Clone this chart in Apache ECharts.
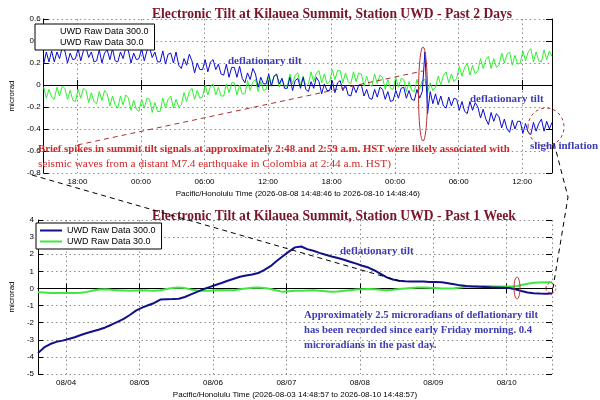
<!DOCTYPE html>
<html>
<head>
<meta charset="utf-8">
<script src="https://cdn.jsdelivr.net/npm/echarts@6/dist/echarts.min.js"></script>
<style>html,body{margin:0;padding:0;background:#fff}#c{width:600px;height:400px}</style>
</head>
<body>
<div id="c"></div>
<script>
const twoDayTitle = 'Electronic Tilt at Kilauea Summit, Station UWD - Past 2 Days';
const weekTitle = 'Electronic Tilt at Kilauea Summit, Station UWD - Past 1 Week';
const seriesNames = ['UWD Raw Data 300.0', 'UWD Raw Data 30.0'];
const twoDayAxisName = 'Pacific/Honolulu Time (2026-08-08 14:48:46 to 2026-08-10 14:48:46)';
const weekAxisName = 'Pacific/Honolulu Time (2026-08-03 14:48:57 to 2026-08-10 14:48:57)';

// ---- Past 2 days (15-minute samples from 2026-08-08 14:48:46) ----
const blue2d = [0.19,0.30,0.21,0.31, 0.21,0.30,0.24,0.34, 0.31,0.20,0.29,0.23, 0.24,0.33,0.22,0.31,
 0.34,0.25,0.30,0.21, 0.22,0.32,0.20,0.29, 0.32,0.23,0.33,0.22, 0.21,0.30,0.24,0.34,
 0.31,0.20,0.29,0.23, 0.24,0.33,0.22,0.31, 0.34,0.25,0.30,0.21, 0.21,0.31,0.19,0.28,
 0.29,0.20,0.30,0.18, 0.15,0.24,0.18,0.28, 0.22,0.11,0.20,0.14, 0.14,0.23,0.12,0.21,
 0.23,0.14,0.19,0.10, 0.09,0.19,0.07,0.16, 0.16,0.07,0.17,0.06, 0.02,0.11,0.05,0.15,
 0.10,-0.02,0.07,0.01, 0.01,0.10,-0.01,0.08, 0.10,0.01,0.06,-0.03, -0.03,0.07,-0.05,0.04,
 0.06,-0.03,0.07,-0.04, -0.06,0.03,-0.03,0.07, 0.03,-0.08,0.01,-0.05, -0.05,0.04,-0.07,0.02,
 0.04,-0.05,0.00,-0.09, -0.10,-0.01,-0.07,0.00, 0.00,-0.10,-0.04,-0.12, -0.13,-0.04,-0.11,-0.02,
 -0.04,-0.13,-0.06,-0.15, -0.14,-0.05,-0.12,-0.03, -0.02,-0.12,-0.05,-0.13, -0.14,-0.04,-0.12,-0.06,
 0.30,-0.26,-0.06,-0.17, -0.08,-0.18,-0.10,-0.19, -0.21,-0.11,-0.19,-0.12, -0.13,-0.23,-0.15,-0.24,
 -0.26,-0.15,-0.23,-0.16, -0.20,-0.30,-0.22,-0.31, -0.36,-0.25,-0.33,-0.26, -0.29,-0.39,-0.31,-0.40,
 -0.43,-0.32,-0.40,-0.33, -0.33,-0.44,-0.35,-0.43, -0.45,-0.34,-0.42,-0.35, -0.31,-0.42,-0.33,-0.40,
 -0.34];

const green2d = [-0.02,-0.12,-0.04,-0.11, -0.13,-0.02,-0.10,-0.01, -0.03,-0.13,-0.05,-0.14, -0.15,-0.04,-0.12,-0.03,
 -0.05,-0.16,-0.07,-0.15, -0.17,-0.06,-0.14,-0.05, -0.08,-0.19,-0.10,-0.18, -0.21,-0.10,-0.18,-0.09,
 -0.12,-0.23,-0.14,-0.22, -0.24,-0.13,-0.21,-0.12, -0.13,-0.25,-0.16,-0.24, -0.24,-0.12,-0.21,-0.13,
 -0.10,-0.21,-0.13,-0.20, -0.18,-0.07,-0.15,-0.06, -0.03,-0.13,-0.05,-0.12, -0.11,0.00,-0.09,-0.01,
 0.01,-0.09,-0.02,-0.10, -0.10,0.01,-0.07,0.02, 0.02,-0.09,0.00,-0.08, -0.08,0.04,-0.05,0.03,
 0.05,-0.06,0.03,-0.05, -0.04,0.07,-0.01,0.08, 0.09,-0.02,0.06,-0.01, -0.01,0.10,0.01,0.09,
 0.11,0.00,0.08,-0.01, 0.01,0.12,0.03,0.11, 0.13,0.02,0.10,0.01, 0.03,0.14,0.05,0.13,
 0.13,0.02,0.11,0.03, 0.01,0.12,0.03,0.11, 0.10,-0.01,0.08,0.00, -0.01,0.10,0.01,0.09,
 0.07,-0.04,0.05,-0.03, -0.04,0.07,-0.02,0.06, 0.05,-0.06,0.03,-0.05, -0.06,0.05,-0.04,0.04,
 0.05,-0.07,0.02,-0.05, -0.02,0.08,0.00,0.09, 0.12,0.02,0.10,0.03, 0.06,0.17,0.08,0.16,
 0.20,0.09,0.18,0.10, 0.13,0.24,0.15,0.23, 0.26,0.15,0.24,0.16, 0.18,0.29,0.20,0.28,
 0.30,0.18,0.27,0.19, 0.20,0.31,0.22,0.30, 0.33,0.21,0.30,0.22, 0.21,0.32,0.23,0.31,
 0.26];

// ---- Past week (2-hour samples from 2026-08-03 14:48:57) ----
const blueWeek = [-3.78,-3.45,-3.25,-3.12,-3.05,-2.95,-2.85,-2.72,-2.60,-2.50,
 -2.40,-2.28,-2.12,-1.95,-1.78,-1.55,-1.30,-1.12,-0.98,-0.85,
 -0.65,-0.63,-0.62,-0.60,-0.50,-0.35,-0.20,-0.05,0.08,0.20,
 0.32,0.45,0.57,0.68,0.76,0.82,0.90,1.08,1.30,1.60,
 1.88,2.15,2.40,2.45,2.30,2.20,2.08,1.97,1.87,1.78,
 1.68,1.56,1.45,1.33,1.22,1.05,0.85,0.65,0.52,0.45,
 0.42,0.41,0.40,0.40,0.38,0.38,0.36,0.30,0.24,0.18,
 0.14,0.12,0.10,0.09,0.07,0.06,0.04,0.02,-0.05,-0.15,
 -0.24,-0.28,-0.30,-0.31,-0.30];

const greenWeek = [-0.22,-0.24,-0.26,-0.27,-0.27,-0.26,-0.27,-0.25,-0.20,-0.12,
 -0.06,-0.05,-0.08,-0.10,-0.12,-0.14,-0.12,-0.10,-0.12,-0.13,
 -0.10,-0.03,0.03,0.05,0.02,-0.06,-0.12,-0.13,-0.14,-0.10,
 -0.09,-0.11,-0.10,-0.05,0.00,0.04,0.05,0.03,-0.03,-0.12,
 -0.20,-0.17,-0.14,-0.13,-0.12,-0.11,-0.13,-0.16,-0.19,-0.18,
 -0.14,-0.10,-0.06,-0.04,-0.03,-0.05,-0.08,-0.10,-0.07,-0.03,
 0.00,0.03,0.06,0.05,0.04,0.02,0.00,-0.01,0.01,0.05,
 0.10,0.13,0.14,0.14,0.13,0.12,0.12,0.11,0.12,0.20,
 0.28,0.33,0.35,0.36,0.36];

// ---- time bases ----
const HOUR = 3600 * 1000;
const topStart = new Date(2026, 7, 8, 14, 48, 46).getTime();
const topEnd = topStart + 48 * HOUR;
const topStep = 15 * 60 * 1000;
const weekStart = new Date(2026, 7, 3, 14, 48, 57).getTime();
const weekEnd = weekStart + 7 * 24 * HOUR;
const weekStep = 2 * HOUR;

const toPairs = (arr, start, step) => arr.map((v, i) => [start + i * step, v]);

const pad = n => (n < 10 ? '0' : '') + n;
const hm = v => { const d = new Date(v); return pad(d.getHours()) + ':' + pad(d.getMinutes()); };
const md = v => { const d = new Date(v); return pad(d.getMonth() + 1) + '/' + pad(d.getDate()); };
const numFmt = v => { const r = Math.round(v * 10) / 10; return r === 0 ? '0' : String(r); };

const TITLE_COLOR = '#7a1428';
const BLUE = '#0b0bd0';
const GREEN = '#2ef02e';
const NAVY = '#10108a';
const GREEN2 = '#3ee83e';
const ANN_BLUE = '#3c3cb4';
const ANN_RED = '#d02828';
const SERIF = '"Liberation Serif", "DejaVu Serif", serif';
const SANS = '"Liberation Sans", Arial, sans-serif';

const dotted = { show: true, lineStyle: { color: '#8a8a8a', type: [1.5, 3], width: 1 } };
const tickLbl = { fontSize: 8, color: '#000', fontFamily: SANS };

const chart = echarts.init(document.getElementById('c'), null, { renderer: 'canvas' });

const option = {
  animation: false,
  backgroundColor: '#fff',
  title: [
    { text: twoDayTitle, left: 147, top: 2, textStyle: { fontFamily: SERIF, fontSize: 13.6, fontWeight: 'bold', color: TITLE_COLOR } },
    { text: weekTitle, left: 147, top: 204, textStyle: { fontFamily: SERIF, fontSize: 13.6, fontWeight: 'bold', color: TITLE_COLOR } }
  ],
  legend: [
    {
      left: 35, top: 24, orient: 'vertical', itemGap: 2, padding: [3, 6, 3, 4],
      backgroundColor: '#fff', borderColor: '#000', borderWidth: 1, borderRadius: 0,
      itemWidth: 16, itemHeight: 2, selectedMode: false,
      textStyle: { fontSize: 9, fontFamily: SANS, color: '#000' },
      data: [{ name: seriesNames[0], icon: 'none' }, { name: seriesNames[1], icon: 'none' }]
    },
    {
      left: 36, top: 223, orient: 'vertical', itemGap: 2, padding: [3, 6, 3, 4],
      backgroundColor: '#fff', borderColor: '#000', borderWidth: 1, borderRadius: 0,
      itemWidth: 22, itemHeight: 2, selectedMode: false, icon: 'rect',
      textStyle: { fontSize: 9, fontFamily: SANS, color: '#000' },
      data: [
        { name: seriesNames[0], itemStyle: { color: NAVY } },
        { name: seriesNames[1], itemStyle: { color: GREEN2 } }
      ]
    }
  ],
  grid: [
    { left: 32, right: 48, top: 19, bottom: 227 },
    { left: 33, right: 48, top: 220, bottom: 26 }
  ],
  xAxis: [
    {
      type: 'time', gridIndex: 0, min: topStart, max: topEnd,
      minInterval: 7 * HOUR, maxInterval: 7 * HOUR,
      name: twoDayAxisName, nameLocation: 'middle', nameGap: 17,
      nameTextStyle: { fontSize: 8, fontFamily: SANS, color: '#000' },
      axisLine: { lineStyle: { color: '#000', width: 1 } },
      axisTick: { show: true, inside: true, length: 5, lineStyle: { color: '#000' } },
      axisLabel: Object.assign({ formatter: hm, margin: 5, showMinLabel: false, showMaxLabel: false, hideOverlap: false }, tickLbl),
      splitLine: dotted
    },
    {
      type: 'time', gridIndex: 0, position: 'top', min: topStart, max: topEnd,
      minInterval: 7 * HOUR, maxInterval: 7 * HOUR,
      axisLine: { show: false },
      axisTick: { show: true, inside: true, length: 5, lineStyle: { color: '#000' } },
      axisLabel: { show: false }, splitLine: { show: false }
    },
    {
      type: 'time', gridIndex: 1, min: weekStart, max: weekEnd,
      minInterval: 36 * HOUR, maxInterval: 36 * HOUR,
      name: weekAxisName, nameLocation: 'middle', nameGap: 17,
      nameTextStyle: { fontSize: 8, fontFamily: SANS, color: '#000' },
      axisLine: { lineStyle: { color: '#000', width: 1 } },
      axisTick: { show: true, inside: true, length: 5, lineStyle: { color: '#000' } },
      axisLabel: Object.assign({ formatter: md, margin: 5, showMinLabel: false, showMaxLabel: false, hideOverlap: false }, tickLbl),
      splitLine: dotted
    },
    {
      type: 'time', gridIndex: 1, position: 'top', min: weekStart, max: weekEnd,
      minInterval: 36 * HOUR, maxInterval: 36 * HOUR,
      axisLine: { show: true, lineStyle: { color: '#000', width: 1 } },
      axisTick: { show: true, inside: true, length: 5, lineStyle: { color: '#000' } },
      axisLabel: { show: false }, splitLine: { show: false }
    }
  ],
  yAxis: [
    {
      type: 'value', gridIndex: 0, min: -0.8, max: 0.6, interval: 0.2,
      name: 'microrad', nameLocation: 'middle', nameGap: 20, nameRotate: 90,
      nameTextStyle: { fontSize: 8, fontFamily: SANS, color: '#000' },
      axisLine: { show: true, lineStyle: { color: '#000' } },
      axisTick: { show: true, inside: true, length: 5, lineStyle: { color: '#000' } },
      axisLabel: Object.assign({ formatter: numFmt, margin: 3 }, tickLbl),
      splitLine: dotted
    },
    {
      type: 'value', gridIndex: 0, position: 'right', min: -0.8, max: 0.6, interval: 0.4,
      axisLine: { show: true, lineStyle: { color: '#000' } },
      axisTick: { show: true, inside: true, length: 6, lineStyle: { color: '#000' } },
      axisLabel: { show: false }, splitLine: { show: false }
    },
    {
      type: 'value', gridIndex: 1, min: -5, max: 4, interval: 1,
      name: 'microrad', nameLocation: 'middle', nameGap: 20, nameRotate: 90,
      nameTextStyle: { fontSize: 8, fontFamily: SANS, color: '#000' },
      axisLine: { show: true, lineStyle: { color: '#000' } },
      axisTick: { show: true, inside: true, length: 5, lineStyle: { color: '#000' } },
      axisLabel: Object.assign({ formatter: numFmt, margin: 4 }, tickLbl),
      splitLine: dotted
    },
    {
      type: 'value', gridIndex: 1, position: 'right', min: -5, max: 4, interval: 1,
      axisLine: { show: false },
      axisTick: { show: true, inside: true, length: 6, lineStyle: { color: '#000' } },
      axisLabel: { show: false }, splitLine: { show: false }
    }
  ],
  series: [
    {
      name: seriesNames[1], type: 'line', xAxisIndex: 0, yAxisIndex: 0,
      data: toPairs(green2d, topStart, topStep), showSymbol: false, symbol: 'none',
      lineStyle: { color: GREEN, width: 1 }, itemStyle: { color: GREEN }, z: 2
    },
    {
      name: seriesNames[0], type: 'line', xAxisIndex: 0, yAxisIndex: 0,
      data: toPairs(blue2d, topStart, topStep), showSymbol: false, symbol: 'none',
      lineStyle: { color: BLUE, width: 1 }, itemStyle: { color: BLUE }, z: 3,
      markLine: {
        silent: true, symbol: 'none', label: { show: false },
        lineStyle: { color: '#a83232', type: [5, 4], width: 1 },
        data: [[
          { coord: [topStart + 3.2 * HOUR, -0.545] },
          { coord: [topStart + 35.8 * HOUR, 0.127] }
        ]]
      }
    },
    {
      name: seriesNames[1], type: 'line', xAxisIndex: 2, yAxisIndex: 2,
      data: toPairs(greenWeek, weekStart, weekStep), showSymbol: false, symbol: 'none',
      lineStyle: { color: GREEN2, width: 2 }, itemStyle: { color: GREEN2 }, z: 2
    },
    {
      name: seriesNames[0], type: 'line', xAxisIndex: 2, yAxisIndex: 2,
      data: toPairs(blueWeek, weekStart, weekStep), showSymbol: false, symbol: 'none',
      lineStyle: { color: NAVY, width: 2 }, itemStyle: { color: NAVY }, z: 3
    }
  ],
  graphic: [
    { type: 'polyline', z: 50, shape: { points: [[32, 175], [403, 282]] }, style: { stroke: '#000', lineWidth: 1, lineDash: [5, 4], fill: null } },
    { type: 'polyline', z: 50, shape: { points: [[554, 143], [568, 197], [553, 288]] }, style: { stroke: '#000', lineWidth: 1, lineDash: [5, 4], fill: null } },
    { type: 'ellipse', z: 50, shape: { cx: 423, cy: 94, rx: 4.5, ry: 47 }, style: { stroke: '#b83030', lineWidth: 1, fill: null } },
    { type: 'ellipse', z: 50, shape: { cx: 546, cy: 127, rx: 18, ry: 19 }, style: { stroke: '#b83030', lineWidth: 1, lineDash: [3, 3], fill: null } },
    { type: 'ellipse', z: 50, shape: { cx: 517, cy: 288, rx: 3, ry: 11 }, style: { stroke: '#c03030', lineWidth: 1, fill: null } },
    { type: 'ellipse', z: 50, shape: { cx: 551, cy: 288, rx: 5, ry: 5 }, style: { stroke: '#c03030', lineWidth: 1, lineDash: [2, 2], fill: null } },
    { type: 'text', z: 60, left: 228, top: 56, style: { text: 'deflationary tilt', font: 'bold 11px ' + SERIF, fill: ANN_BLUE } },
    { type: 'text', z: 60, left: 470, top: 94, style: { text: 'deflationary tilt', font: 'bold 11px ' + SERIF, fill: ANN_BLUE } },
    { type: 'text', z: 60, left: 530, top: 141, style: { text: 'slight inflation', font: 'bold 11px ' + SERIF, fill: ANN_BLUE } },
    { type: 'text', z: 60, left: 38, top: 144, style: { text: 'Brief spikes in summit tilt signals at approximately 2:48 and 2:59 a.m. HST were likely associated with', font: 'bold 10.8px ' + SERIF, fill: ANN_RED } },
    { type: 'text', z: 60, left: 38, top: 159, style: { text: 'seismic waves from a distant M7.4 earthquake in Colombia at 2:44 a.m. HST)', font: '11.3px ' + SERIF, fill: ANN_RED } },
    { type: 'text', z: 60, left: 340, top: 246, style: { text: 'deflationary tilt', font: 'bold 11px ' + SERIF, fill: ANN_BLUE } },
    { type: 'text', z: 60, left: 304, top: 310, style: { text: 'Approximately 2.5 microradians of deflationary tilt', font: 'bold 10.7px ' + SERIF, fill: ANN_BLUE } },
    { type: 'text', z: 60, left: 304, top: 325, style: { text: 'has been recorded since early Friday morning. 0.4', font: 'bold 10.7px ' + SERIF, fill: ANN_BLUE } },
    { type: 'text', z: 60, left: 304, top: 340, style: { text: 'microradians in the past day.', font: 'bold 10.7px ' + SERIF, fill: ANN_BLUE } }
  ]
};

chart.setOption(option);
</script>
</body>
</html>
